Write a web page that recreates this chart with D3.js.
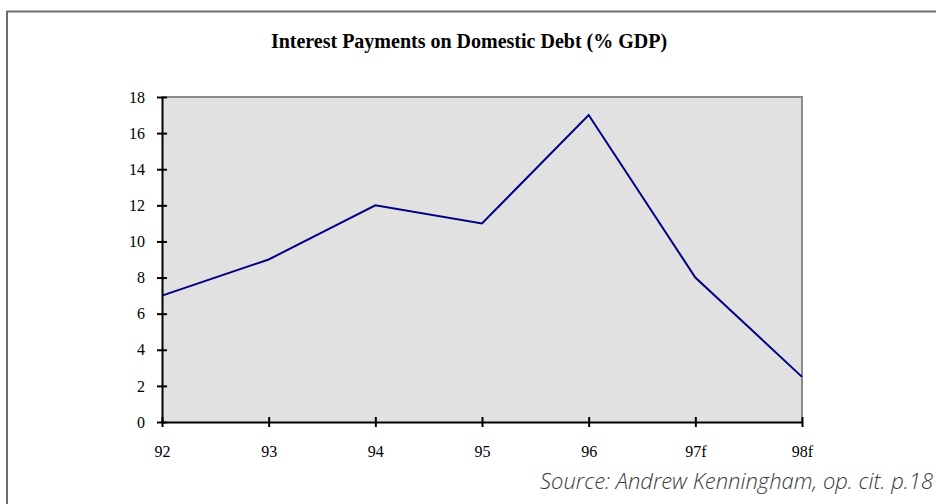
<!DOCTYPE html>
<html>
<head>
<meta charset="utf-8">
<script src="https://cdn.jsdelivr.net/npm/d3@7"></script>
<style>
  html, body { margin: 0; padding: 0; background: #fff; }
  svg { display: block; }
  .serif { font-family: "Liberation Serif", "DejaVu Serif", serif; }
</style>
</head>
<body>
<svg id="chart" width="936" height="504"></svg>
<script>
// Interest payments on domestic debt, % of GDP (f = forecast)
const years = ["92", "93", "94", "95", "96", "97f", "98f"];
const interestPct = [7, 9, 12, 11, 17, 8, 2.5];
const yTicks = [0, 2, 4, 6, 8, 10, 12, 14, 16, 18];

const svg = d3.select("#chart");
const W = 936, H = 504;
const plot = { left: 162, right: 802, top: 97, bottom: 422 };

// outer frame
svg.append("path")
  .attr("d", `M7,${H + 2} L7,11.5 L${W + 2},11.5`)
  .attr("fill", "none")
  .attr("stroke", "#6e6e6e")
  .attr("stroke-width", 2);

svg.append("text")
  .attr("class", "serif")
  .attr("x", 469).attr("y", 48)
  .attr("text-anchor", "middle")
  .style("font-weight", "bold")
  .style("font-size", "20px")
  .attr("fill", "#000")
  .text("Interest Payments on Domestic Debt (% GDP)");

const x = d3.scalePoint().domain(years).range([plot.left, plot.right]);
const y = d3.scaleLinear().domain([0, 18]).range([plot.bottom, plot.top]);

// plot background
svg.append("rect")
  .attr("x", plot.left).attr("y", plot.top)
  .attr("width", plot.right - plot.left).attr("height", plot.bottom - plot.top)
  .attr("fill", "#e1e1e1");

// top and right edges of the plot area
svg.append("path")
  .attr("d", `M${plot.left},${plot.top} L${plot.right},${plot.top} L${plot.right},${plot.bottom}`)
  .attr("fill", "none")
  .attr("stroke", "#8c8c8c")
  .attr("stroke-width", 2);

const line = d3.line()
  .x((d, i) => x(years[i]))
  .y(d => y(d));

svg.append("path")
  .datum(interestPct)
  .attr("d", line)
  .attr("fill", "none")
  .attr("stroke", "#000080")
  .attr("stroke-width", 2);

// y axis with crossing ticks
const yAxis = svg.append("g")
  .attr("transform", `translate(${plot.left},0)`)
  .call(d3.axisLeft(y).tickValues(yTicks).tickSize(0).tickPadding(17).tickFormat(d3.format("d")));
yAxis.attr("font-family", null).attr("font-size", null);
yAxis.select(".domain").attr("stroke", "#000").attr("stroke-width", 2);
yAxis.selectAll(".tick line").attr("x1", -5).attr("x2", 5).attr("stroke", "#000").attr("stroke-width", 2);
yAxis.selectAll(".tick text")
  .attr("class", "serif")
  .style("font-size", "16px").attr("fill", "#000");

// x axis with crossing ticks
const xAxis = svg.append("g")
  .attr("transform", `translate(0,${plot.bottom})`)
  .call(d3.axisBottom(x).tickSize(0).tickPadding(24).tickSizeOuter(0));
xAxis.attr("font-family", null).attr("font-size", null);
xAxis.select(".domain").attr("stroke", "#000").attr("stroke-width", 2);
xAxis.selectAll(".tick line").attr("y1", -5).attr("y2", 5).attr("stroke", "#000").attr("stroke-width", 2);
xAxis.selectAll(".tick text")
  .attr("class", "serif")
  .style("font-size", "16px").attr("fill", "#000");

svg.append("text")
  .attr("x", 933).attr("y", 489)
  .attr("text-anchor", "end")
  .style("font-family", "'Open Sans', 'Noto Sans', sans-serif")
  .style("font-style", "italic")
  .style("font-weight", 300)
  .style("font-size", "22px")
  .attr("fill", "#3a3a3a")
  .text("Source: Andrew Kenningham, op. cit. p.18");
</script>
</body>
</html>
